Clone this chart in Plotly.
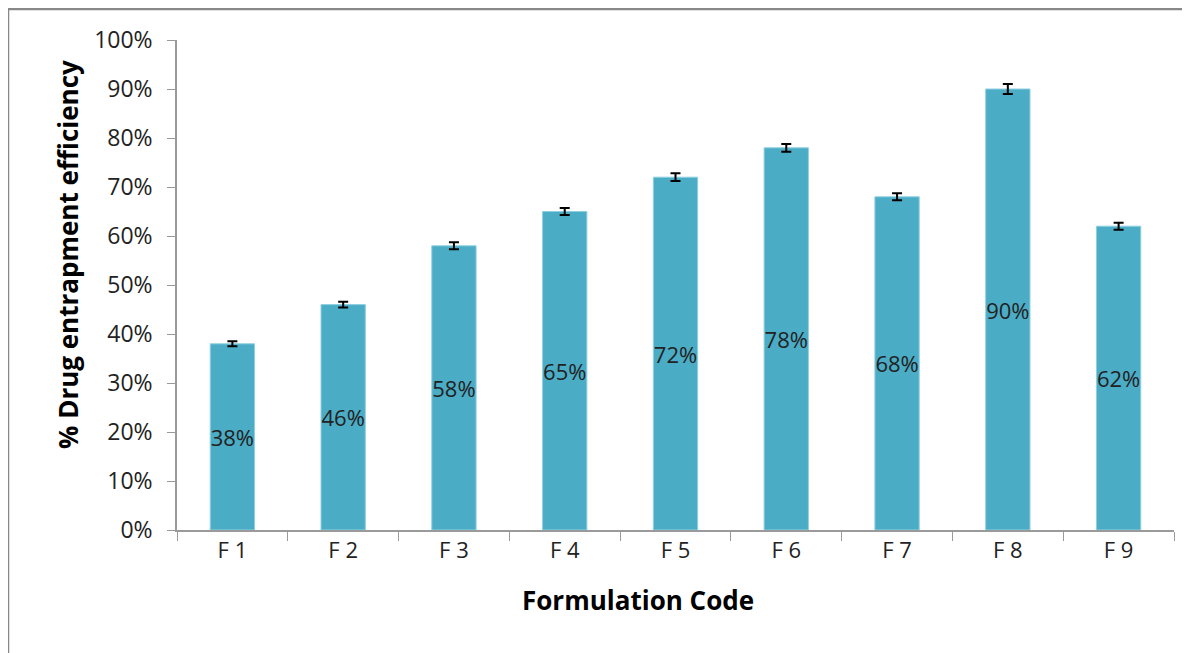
import plotly.graph_objects as go

categories = ["F 1", "F 2", "F 3", "F 4", "F 5", "F 6", "F 7", "F 8", "F 9"]
values = [38, 46, 58, 65, 72, 78, 68, 90, 62]
errors = [0.5, 0.6, 0.7, 0.7, 0.8, 0.8, 0.7, 1.0, 0.7]
labels = [f"{v}%" for v in values]
y_ticks = list(range(0, 101, 10))
y_tick_text = [f"{t}%" for t in y_ticks]

W, H = 1190, 653
OFF = 8  # page body margin offset
L, R, T, B = 177 - OFF, 16 + OFF, 40 - OFF, 123 + OFF
PW, PH = W - L - R, H - T - B


def px_x(x):
    return (x - OFF - L) / PW


def px_y(y):
    return (H - B - (y - OFF)) / PH


fig = go.Figure()
fig.add_trace(go.Bar(
    x=categories, y=values, text=labels,
    textposition="inside", insidetextanchor="middle", textangle=0,
    constraintext="none", cliponaxis=False,
    textfont=dict(family="Open Sans, Liberation Sans, sans-serif", size=22, color="#222222"),
    marker=dict(color="#4BACC6", line=dict(color="#8FD0E0", width=1)),
    error_y=dict(type="data", array=errors, visible=True, color="black", thickness=2, width=5),
    width=0.4,
))

fig.update_layout(
    width=W, height=H,
    margin=dict(l=L, r=R, t=T, b=B),
    paper_bgcolor="white", plot_bgcolor="white",
    showlegend=False,
    uniformtext=dict(minsize=22, mode="show"),
    font=dict(family="Open Sans, Liberation Sans, sans-serif", color="#333333"),
    xaxis=dict(
        showline=True, linecolor="#9a9a9a", linewidth=1.5,
        ticks="outside", tickson="boundaries", ticklen=9, tickcolor="#9a9a9a",
        tickfont=dict(size=22, color="#222222"),
        showgrid=False,
    ),
    yaxis=dict(
        range=[0, 100], tickvals=y_ticks, ticktext=y_tick_text,
        showline=True, linecolor="#9a9a9a", linewidth=1.5,
        ticks="outside", ticklen=8, tickcolor="#9a9a9a",
        ticklabelstandoff=10,
        tickfont=dict(size=23, color="#222222"),
        showgrid=False, zeroline=False,
    ),
    annotations=[
        dict(text="<b>% Drug entrapment efficiency</b>", textangle=-90,
             xref="paper", yref="paper",
             x=px_x(68), y=px_y(255),
             showarrow=False, font=dict(size=26, color="#000000"),
             xanchor="center", yanchor="middle"),
        dict(text="<b>Formulation Code</b>",
             xref="paper", yref="paper",
             x=px_x(638), y=px_y(600),
             showarrow=False, font=dict(size=26, color="#000000"),
             xanchor="center", yanchor="middle"),
    ],
    shapes=[
        dict(type="rect", xref="paper", yref="paper",
             x0=px_x(8), x1=px_x(1220),
             y0=px_y(700), y1=px_y(9),
             line=dict(color="#888888", width=2.5), fillcolor="rgba(0,0,0,0)", layer="below"),
    ],
)

fig.write_html("out.html")
